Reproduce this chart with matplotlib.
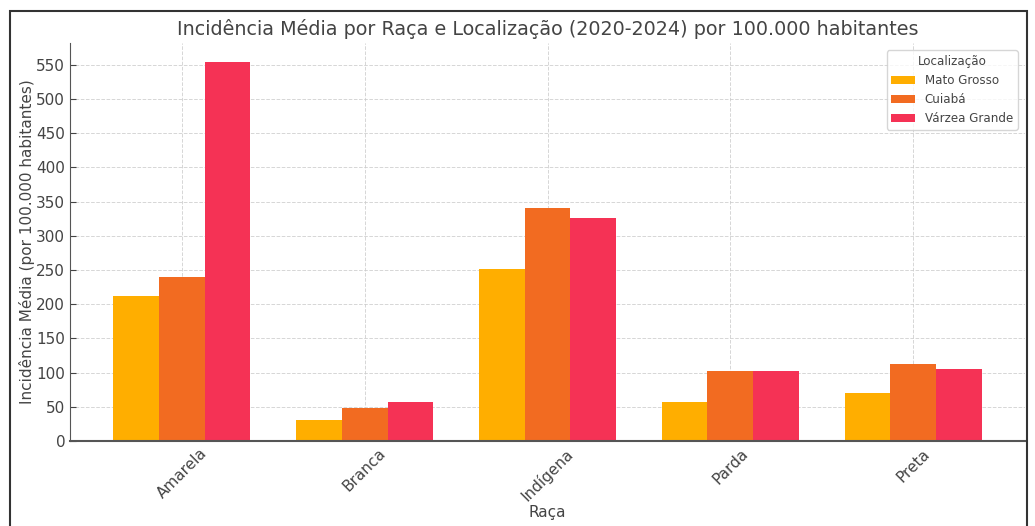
import numpy as np
import matplotlib.pyplot as plt
from matplotlib.patches import Rectangle

racas = ["Amarela", "Branca", "Indígena", "Parda", "Preta"]
mato_grosso = [212, 31, 251, 57, 70]
cuiaba = [240, 48, 340, 103, 113]
varzea_grande = [554, 57, 326, 102, 105]

txt = "#444444"
plt.rcParams["text.color"] = txt
plt.rcParams["axes.labelcolor"] = txt
plt.rcParams["xtick.color"] = txt
plt.rcParams["ytick.color"] = txt

fig = plt.figure(figsize=(10.35, 5.26), dpi=100, facecolor="white")
ax = fig.add_axes([70 / 1035, 1 - 441 / 526, 955 / 1035, 398 / 526])

# moldura da figura (cortada embaixo)
fig.patches.append(Rectangle((10 / 1035, -0.1), 1017 / 1035, 1.1 - 11 / 526,
                             transform=fig.transFigure, fill=False,
                             edgecolor="#333333", linewidth=1.5))

x = np.arange(len(racas))
w = 0.25
ax.bar(x - w, mato_grosso, w, color="#FFAE00", label="Mato Grosso")
ax.bar(x, cuiaba, w, color="#F26B21", label="Cuiabá")
ax.bar(x + w, varzea_grande, w, color="#F53255", label="Várzea Grande")

ax.set_xticks(x)
ax.set_xticklabels(racas, rotation=45, fontsize=11)
ax.set_yticks(np.arange(0, 551, 50))
ax.tick_params(axis="y", labelsize=11, direction="in", length=4)
ax.tick_params(axis="x", direction="in", length=4)
ax.set_ylim(0, 582)
ax.set_xlim(-0.6125, 4.6125)

ax.set_title("Incidência Média por Raça e Localização (2020-2024) por 100.000 habitantes",
             fontsize=13.8, pad=6)
ax.set_xlabel("Raça", fontsize=11, labelpad=1)
ax.set_ylabel("Incidência Média (por 100.000 habitantes)", fontsize=11, labelpad=1)

ax.set_axisbelow(True)
ax.grid(True, linestyle="--", color="#cccccc", linewidth=0.7, alpha=0.8)
ax.spines["top"].set_visible(False)
ax.spines["right"].set_visible(False)
ax.spines["left"].set_color("#555555")
ax.spines["bottom"].set_color("#555555")
ax.spines["bottom"].set_linewidth(1.5)

ax.legend(title="Localização", loc="upper right", fontsize=8.6, title_fontsize=8.6,
          borderaxespad=0.6)

fig.savefig("out.png", dpi=100)
